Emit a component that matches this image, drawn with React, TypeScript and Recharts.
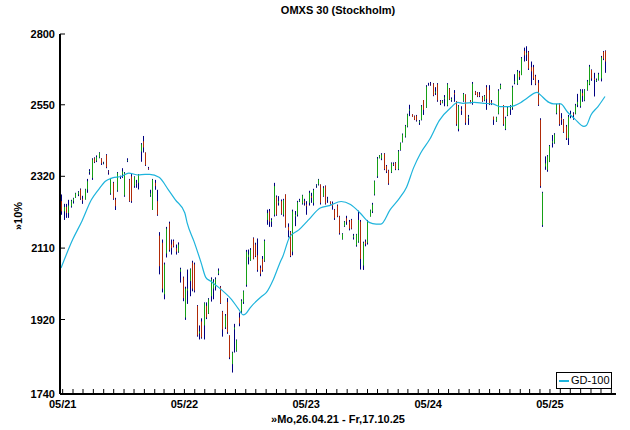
import React from "react";
import { ComposedChart, Bar, Line, XAxis, YAxis } from "recharts";

type Ohlc = [number, number, number, number]; // open, high, low, close

// weekly bars, first week starts Mo 26.04.21
const bars2021: Ohlc[] = [
  [2245, 2265, 2205, 2215], [2215, 2237, 2190, 2228], [2228, 2237, 2196, 2210], [2210, 2249, 2196, 2232],
  [2230, 2249, 2226, 2246], [2245, 2255, 2238, 2253], [2255, 2270, 2255, 2268], [2265, 2275, 2260, 2272],
  [2280, 2283, 2249, 2252], [2252, 2261, 2237, 2247], [2250, 2282, 2250, 2280], [2280, 2312, 2270, 2305],
  [2333, 2342, 2325, 2336], [2315, 2376, 2309, 2372], [2376, 2379, 2361, 2364], [2368, 2385, 2364, 2380],
  [2378, 2395, 2376, 2393], [2375, 2376, 2355, 2360], [2360, 2365, 2357, 2362], [2386, 2389, 2345, 2348],
  [2335, 2339, 2325, 2332], [2268, 2315, 2264, 2312], [2300, 2303, 2249, 2252], [2250, 2255, 2219, 2230],
  [2277, 2333, 2273, 2330], [2320, 2322, 2312, 2319], [2325, 2345, 2315, 2335], [2262, 2333, 2258, 2330],
  [2368, 2376, 2364, 2370], [2310, 2312, 2243, 2245], [2320, 2327, 2240, 2245], [2290, 2320, 2285, 2318],
  [2300, 2309, 2285, 2298], [2300, 2327, 2280, 2325], [2397, 2424, 2365, 2420], [2430, 2447, 2394, 2410],
];

const bars2022: Ohlc[] = [
  [2394, 2394, 2352, 2355], [2345, 2349, 2340, 2342], [2262, 2279, 2258, 2268], [2219, 2312, 2219, 2310],
  [2300, 2309, 2279, 2290], [2245, 2279, 2202, 2205], [2145, 2155, 2038, 2060], [2125, 2134, 1990, 2000],
  [1985, 2070, 1972, 2065], [2095, 2170, 2084, 2165], [2180, 2185, 2100, 2105], [2120, 2134, 2092, 2110],
  [2130, 2134, 2112, 2115], [2110, 2120, 2092, 2100], [2100, 2126, 2097, 2120], [2045, 2056, 2016, 2052],
  [2030, 2032, 1967, 1975], [1925, 2005, 1919, 2000], [1995, 2051, 1960, 2000], [2020, 2054, 1980, 2052],
  [2070, 2075, 1993, 2000], [2065, 2070, 1990, 1995], [1955, 1957, 1877, 1880], [1885, 1905, 1870, 1890],
  [1915, 1923, 1872, 1875], [1905, 1964, 1870, 1962], [1955, 1964, 1921, 1925], [1935, 1975, 1934, 1972],
  [1980, 2030, 1966, 2025], [2000, 2025, 1972, 2018], [2005, 2030, 1995, 2025], [2040, 2054, 2036, 2048],
  [2005, 2007, 1960, 1962], [1940, 1942, 1877, 1895], [1900, 1934, 1896, 1930], [1965, 1975, 1884, 1888],
  [1880, 1880, 1822, 1826], [1810, 1840, 1790, 1838], [1895, 1909, 1838, 1900], [1842, 1870, 1840, 1868],
  [1925, 1938, 1903, 1910], [1940, 1972, 1937, 1968], [1965, 1995, 1960, 1993], [2010, 2105, 2005, 2100],
  [2085, 2106, 2065, 2092], [2075, 2110, 2075, 2105], [2138, 2140, 2079, 2080], [2120, 2125, 2085, 2088],
  [2090, 2137, 2045, 2050], [2055, 2062, 2033, 2040], [2080, 2088, 2045, 2050], [2075, 2134, 2072, 2130],
];

const bars2023: Ohlc[] = [
  [2190, 2220, 2176, 2210], [2215, 2222, 2170, 2185], [2185, 2195, 2170, 2190], [2205, 2300, 2200, 2290],
  [2258, 2262, 2202, 2205], [2240, 2260, 2232, 2245], [2245, 2250, 2205, 2208], [2205, 2252, 2200, 2248],
  [2265, 2265, 2168, 2170], [2170, 2180, 2140, 2160], [2155, 2158, 2085, 2088], [2100, 2220, 2090, 2215],
  [2200, 2216, 2172, 2205], [2205, 2246, 2200, 2242], [2245, 2252, 2243, 2248], [2238, 2264, 2235, 2262],
  [2245, 2252, 2232, 2240], [2235, 2245, 2205, 2230], [2240, 2276, 2232, 2270], [2260, 2270, 2240, 2255],
  [2240, 2282, 2232, 2278], [2290, 2296, 2285, 2292], [2295, 2312, 2292, 2310], [2295, 2295, 2235, 2240],
  [2260, 2290, 2258, 2285], [2290, 2292, 2235, 2238], [2250, 2258, 2240, 2252], [2244, 2244, 2235, 2236],
  [2238, 2244, 2220, 2230], [2220, 2222, 2190, 2195], [2232, 2235, 2198, 2200], [2200, 2202, 2148, 2152],
  [2135, 2152, 2134, 2150], [2172, 2187, 2170, 2185], [2195, 2202, 2176, 2185], [2185, 2190, 2160, 2165],
  [2190, 2193, 2163, 2165], [2140, 2150, 2134, 2145], [2118, 2150, 2114, 2148], [2128, 2217, 2125, 2190],
  [2185, 2190, 2051, 2080], [2062, 2128, 2050, 2125], [2128, 2134, 2115, 2122], [2125, 2190, 2120, 2185],
  [2200, 2220, 2200, 2218], [2215, 2240, 2210, 2235], [2265, 2307, 2262, 2305], [2320, 2380, 2315, 2375],
  [2376, 2386, 2376, 2385], [2375, 2392, 2370, 2388], [2390, 2392, 2339, 2342], [2352, 2355, 2330, 2335],
];

const bars2024: Ohlc[] = [
  [2338, 2340, 2294, 2298], [2332, 2363, 2330, 2360], [2358, 2363, 2352, 2355], [2362, 2364, 2339, 2342],
  [2342, 2402, 2339, 2398], [2402, 2426, 2400, 2424], [2428, 2455, 2426, 2452], [2445, 2483, 2442, 2480],
  [2478, 2520, 2475, 2518], [2530, 2550, 2512, 2535], [2518, 2518, 2510, 2510], [2512, 2514, 2499, 2500],
  [2513, 2516, 2494, 2498], [2490, 2499, 2483, 2495], [2500, 2549, 2498, 2545], [2566, 2566, 2516, 2533],
  [2540, 2617, 2540, 2612], [2620, 2625, 2615, 2620], [2622, 2628, 2615, 2620], [2622, 2624, 2579, 2582],
  [2590, 2610, 2583, 2595], [2620, 2624, 2560, 2565], [2562, 2566, 2549, 2555], [2556, 2566, 2555, 2563],
  [2570, 2583, 2545, 2575], [2548, 2624, 2545, 2620], [2605, 2607, 2566, 2568], [2565, 2575, 2560, 2570],
  [2590, 2600, 2560, 2585], [2562, 2562, 2480, 2485], [2470, 2549, 2462, 2545], [2535, 2545, 2516, 2530],
  [2563, 2590, 2560, 2587], [2585, 2585, 2483, 2490], [2505, 2516, 2483, 2510], [2565, 2566, 2555, 2558],
  [2560, 2628, 2550, 2622], [2595, 2597, 2583, 2585], [2592, 2593, 2576, 2578], [2585, 2593, 2576, 2580],
  [2578, 2580, 2560, 2562], [2565, 2583, 2562, 2580], [2610, 2617, 2533, 2570], [2600, 2617, 2549, 2552],
  [2560, 2566, 2549, 2555], [2510, 2510, 2483, 2500], [2495, 2510, 2493, 2508], [2520, 2603, 2518, 2598],
  [2605, 2622, 2603, 2618], [2549, 2549, 2480, 2485], [2470, 2510, 2466, 2505], [2515, 2545, 2512, 2540],
];

const bars2025: Ohlc[] = [
  [2535, 2549, 2516, 2540], [2540, 2615, 2533, 2610], [2625, 2655, 2620, 2630], [2622, 2670, 2618, 2665],
  [2660, 2667, 2635, 2645], [2652, 2716, 2652, 2712], [2738, 2750, 2700, 2722], [2725, 2755, 2702, 2730],
  [2735, 2738, 2670, 2675], [2680, 2700, 2617, 2665], [2680, 2688, 2635, 2640], [2648, 2653, 2617, 2622],
  [2625, 2635, 2546, 2550], [2500, 2505, 2285, 2290], [2175, 2273, 2170, 2270], [2350, 2382, 2340, 2360],
  [2340, 2386, 2334, 2382], [2365, 2418, 2364, 2415], [2425, 2450, 2410, 2430], [2425, 2456, 2422, 2452],
  [2522, 2553, 2518, 2550], [2553, 2555, 2480, 2485], [2505, 2522, 2483, 2500], [2500, 2502, 2457, 2460],
  [2478, 2483, 2434, 2440], [2440, 2516, 2418, 2510], [2512, 2530, 2505, 2520], [2520, 2525, 2500, 2515],
  [2520, 2553, 2518, 2548], [2550, 2587, 2542, 2560], [2545, 2603, 2540, 2598], [2590, 2603, 2560, 2580],
  [2565, 2603, 2562, 2600], [2600, 2635, 2598, 2630], [2620, 2688, 2617, 2682], [2670, 2672, 2632, 2640],
  [2640, 2660, 2578, 2635], [2630, 2640, 2628, 2635], [2635, 2660, 2633, 2655], [2640, 2720, 2630, 2715],
  [2735, 2738, 2705, 2710], [2738, 2740, 2660, 2700],
];

// GD-100 at these week numbers
const maWeeks = [
  0, 5, 9, 13, 16, 19, 22, 26, 29, 33, 36, 38, 42, 46, 49, 53, 54, 57, 60, 62, 64, 67, 70, 73, 76, 78, 79,
  81, 86, 88, 91, 94, 95, 98, 102, 106, 111, 115, 120, 124, 128, 132, 135, 137, 141, 145, 148, 151, 154,
  158, 162, 167, 170, 172, 177, 181, 185, 188, 192, 197, 199, 204, 205, 209, 211, 214, 217, 220, 224,
  225, 227, 230, 233,
];
const maValues = [
  2055, 2134, 2187, 2249, 2279, 2305, 2315, 2320, 2330, 2324, 2326, 2326, 2317, 2279, 2249, 2211, 2182,
  2128, 2070, 2030, 2020, 2006, 1990, 1972, 1947, 1932, 1934,
  1950, 1980, 1990, 2025, 2073, 2087, 2142, 2162, 2190, 2225, 2232, 2244, 2235, 2211, 2183, 2178, 2178,
  2220, 2254, 2287, 2346, 2392,
  2437, 2497, 2541, 2558, 2555, 2558, 2555, 2553, 2544, 2544, 2558, 2569, 2592, 2586, 2558, 2553, 2553,
  2525, 2503, 2478, 2481, 2516, 2544, 2578,
];

const yTicks = [1740, 1920, 2110, 2320, 2550, 2800];
const yearLabels = ["05/21", "05/22", "05/23", "05/24", "05/25"];

const NAVY = "#000080";
const GREEN = "#16a016";
const RED = "#b02a08";
const CYAN = "#1eb4dc";
const FONT = "'Liberation Sans', Arial, sans-serif";

const START = Date.UTC(2021, 3, 26);
const DAY = 86400000;

const weekly = [...bars2021, ...bars2022, ...bars2023, ...bars2024, ...bars2025];
const data: any[] = weekly.map(([o, h, l, c], i) => ({
  day: i * 7,
  open: o,
  high: h,
  low: l,
  close: c,
  range: [l, h],
  ma: null,
}));
maWeeks.forEach((w, k) => {
  data[w].ma = maValues[k];
});

// month ticks, first of each month
const monthTicks: number[] = [];
const labelByDay: Record<number, string> = {};
for (let y = 2021; y <= 2025; y++) {
  for (let m = 0; m < 12; m++) {
    const d = Math.round((Date.UTC(y, m, 1) - START) / DAY);
    if (d < 0 || d > 1660) continue;
    monthTicks.push(d);
    if (m === 4) labelByDay[d] = yearLabels[y - 2021];
  }
}

function Candle(props: any) {
  const { x, y, width, height, payload } = props;
  if (!payload || !isFinite(y) || !isFinite(height)) return null;
  const cx = Math.round(x + width / 2) + 0.5;
  const yHi = Math.min(y, y + height);
  const yLo = Math.max(y, y + height);
  const lh = Math.log(payload.high);
  const ll = Math.log(payload.low);
  const py = (v: number) => (lh === ll ? yHi : yHi + ((yLo - yHi) * (lh - Math.log(v))) / (lh - ll));
  const up = payload.close >= payload.open;
  return (
    <g>
      <line x1={cx} x2={cx} y1={yHi} y2={yLo} stroke={NAVY} strokeWidth={1} />
      <line
        x1={cx}
        x2={cx}
        y1={py(Math.max(payload.open, payload.close))}
        y2={py(Math.min(payload.open, payload.close))}
        stroke={up ? GREEN : RED}
        strokeWidth={1}
      />
    </g>
  );
}

const BottomTick = (props: any) => {
  const { x, y, payload } = props;
  const lbl = labelByDay[payload.value];
  return (
    <g>
      <line x1={x} x2={x} y1={y} y2={y - 5} stroke="#000" />
      {lbl && (
        <text x={x} y={y + 14} textAnchor="middle" fontSize={11} fontWeight="bold" fontFamily={FONT} fill="#000">
          {lbl}
        </text>
      )}
    </g>
  );
};

const TopTick = (props: any) => (
  <line x1={props.x} x2={props.x} y1={props.y} y2={props.y + 5} stroke="#000" />
);

const LeftTick = (props: any) => {
  const { x, y, payload } = props;
  return (
    <g>
      <line x1={x} x2={x + 5} y1={y} y2={y} stroke="#000" />
      <text x={x - 5} y={y + 4} textAnchor="end" fontSize={11} fontWeight="bold" fontFamily={FONT} fill="#000">
        {payload.value}
      </text>
    </g>
  );
};

const RightTick = (props: any) => (
  <line x1={props.x} x2={props.x - 5} y1={props.y} y2={props.y} stroke="#000" />
);

export default function App() {
  const xDomain = [-3, 1664];
  const yDomain = [1740, 2800];
  const border = { stroke: "#000", strokeWidth: 2 };
  const txt: React.CSSProperties = {
    position: "absolute",
    fontFamily: FONT,
    fontSize: 11,
    fontWeight: "bold",
    color: "#000",
  };
  return (
    <div style={{ position: "absolute", left: 0, top: 0, width: 630, height: 430, background: "#fff" }}>
      <ComposedChart width={630} height={430} data={data} margin={{ top: 34, right: 14, bottom: 0, left: 0 }}>
        <XAxis
          dataKey="day"
          type="number"
          domain={xDomain}
          ticks={monthTicks}
          interval={0}
          allowDataOverflow
          height={36}
          tickSize={0}
          tickMargin={0}
          tickLine={false}
          axisLine={border}
          tick={<BottomTick />}
        />
        <XAxis
          xAxisId="top"
          orientation="top"
          dataKey="day"
          type="number"
          domain={xDomain}
          ticks={monthTicks}
          interval={0}
          allowDataOverflow
          height={0}
          tickSize={0}
          tickMargin={0}
          tickLine={false}
          axisLine={border}
          tick={<TopTick />}
        />
        <YAxis
          type="number"
          scale="log"
          domain={yDomain}
          ticks={yTicks}
          interval={0}
          allowDataOverflow
          width={60}
          tickSize={0}
          tickMargin={0}
          tickLine={false}
          axisLine={border}
          tick={<LeftTick />}
        />
        <YAxis
          yAxisId="right"
          orientation="right"
          type="number"
          scale="log"
          domain={yDomain}
          ticks={yTicks}
          interval={0}
          allowDataOverflow
          width={0}
          tickSize={0}
          tickMargin={0}
          tickLine={false}
          axisLine={border}
          tick={<RightTick />}
        />
        <Bar dataKey="range" barSize={1} shape={<Candle />} isAnimationActive={false} />
        <Line
          dataKey="ma"
          type="monotone"
          stroke={CYAN}
          strokeWidth={1.2}
          dot={false}
          connectNulls
          isAnimationActive={false}
        />
      </ComposedChart>
      <div style={{ ...txt, left: 60, width: 556, top: 4, textAlign: "center" }}>OMXS 30 (Stockholm)</div>
      <div style={{ ...txt, left: 60, width: 556, top: 413, textAlign: "center" }}>»Mo,26.04.21 - Fr,17.10.25</div>
      <div
        style={{
          ...txt,
          left: 18,
          top: 216,
          transform: "translate(-50%, -50%) rotate(-90deg)",
          whiteSpace: "nowrap",
        }}
      >
        »10%
      </div>
      <div
        style={{
          position: "absolute",
          left: 556,
          top: 372,
          width: 54,
          height: 15,
          border: "1px solid #000",
          background: "#fff",
          display: "flex",
          alignItems: "center",
        }}
      >
        <div style={{ width: 10, height: 2, background: CYAN, marginLeft: 2, marginRight: 2 }} />
        <span style={{ fontFamily: FONT, fontSize: 11, color: "#000", lineHeight: "13px" }}>GD-100</span>
      </div>
    </div>
  );
}
